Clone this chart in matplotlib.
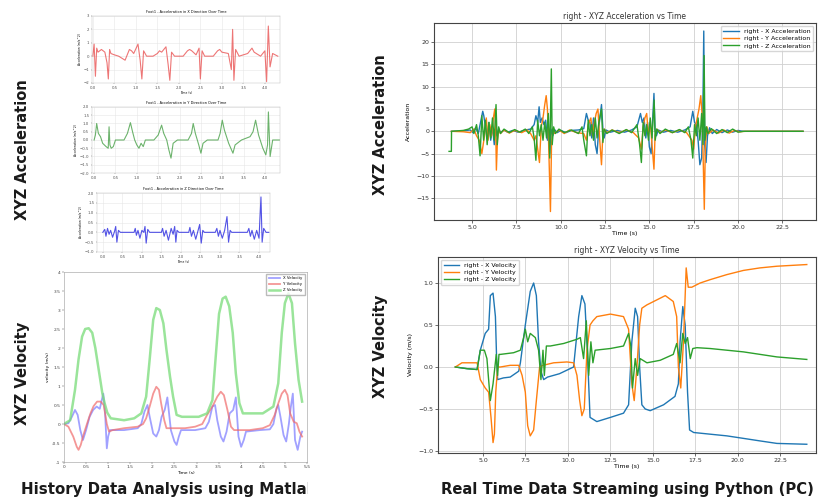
import matplotlib
matplotlib.use("Agg")
import matplotlib.pyplot as plt
from matplotlib.patches import Rectangle

# ---- left: history data (Matlab) ----
hx_t = [0.0, 0.03, 0.06, 0.09, 0.12, 0.2, 0.28, 0.33, 0.36, 0.39, 0.42, 0.5, 0.6, 0.75, 0.8, 0.85, 0.9, 0.95,
        1.05, 1.1, 1.14, 1.18, 1.25, 1.4, 1.5, 1.55, 1.6, 1.7, 1.75, 1.79, 1.83, 1.9, 2.1, 2.2, 2.25, 2.3, 2.4,
        2.47, 2.5, 2.54, 2.6, 2.8, 2.9, 2.95, 3.0, 3.15, 3.22, 3.25, 3.28, 3.32, 3.4, 3.6, 3.65, 3.7, 3.75, 3.9,
        4.0, 4.04, 4.08, 4.12, 4.18, 4.3]
hx_a = [0, 0.9, -1.5, 0.6, 0.3, 0.5, 0.3, -0.5, -1.7, 0.5, 0.2, 0.1, 0.0, -0.3, 0.1, 0.5, 0.4, 0.2,
        0.9, -0.3, -1.7, 0.4, 0.0, 0.0, 0.2, 0.4, 0.3, 0.7, -0.6, -1.8, 0.3, 0.0, 0.0, 0.4, 0.5, 0.4, 0.1,
        0.6, -1.7, 0.4, 0.0, 0.0, 0.4, 0.5, 0.3, 0.2, -1.0, 2.0, -1.8, 0.5, 0.0, 0.2, 0.4, 0.6, 0.3, 0.0,
        0.4, -1.9, 2.25, -0.8, 0.2, 0.0]

hy_t = [0.0, 0.03, 0.06, 0.1, 0.15, 0.2, 0.28, 0.33, 0.35, 0.37, 0.4, 0.45, 0.5, 0.7, 0.78, 0.85, 0.9, 0.95,
        1.0, 1.05, 1.1, 1.15, 1.2, 1.4, 1.5, 1.58, 1.63, 1.7, 1.75, 1.8, 1.85, 1.95, 2.2, 2.28, 2.32, 2.37,
        2.45, 2.5, 2.55, 2.65, 2.9, 2.95, 3.0, 3.05, 3.15, 3.25, 3.3, 3.45, 3.65, 3.72, 3.78, 3.85, 3.95,
        4.02, 4.06, 4.08, 4.12, 4.18, 4.35]
hy_a = [0, 0.3, 1.0, 0.4, 0.2, -0.2, -0.4, -0.5, 0.8, -0.3, -0.5, -0.4, 0.0, 0.0, 0.4, 1.05, 0.5, 0.0,
        -0.3, -0.5, -0.2, -0.4, 0.0, 0.0, 0.3, 0.9, 0.4, 0.0, -0.6, -1.1, -0.2, 0.0, 0.0, 0.4, 1.0, 0.4,
        -0.3, -0.8, -0.2, 0.0, 0.0, 0.4, 1.2, 0.6, -0.2, -0.8, -0.3, 0.0, 0.2, 0.5, 1.2, 0.3, -0.5,
        -0.9, -0.3, 1.7, -1.0, 0.0, 0.0]

hz_t = [0.0, 0.05, 0.08, 0.12, 0.16, 0.2, 0.25, 0.3, 0.33, 0.36, 0.4, 0.45, 0.8, 0.83, 0.86, 0.9, 0.95,
        1.0, 1.05, 1.08, 1.11, 1.15, 1.2, 1.5, 1.53, 1.57, 1.62, 1.68, 1.75, 1.8, 1.84, 1.87, 1.9, 1.95,
        2.2, 2.23, 2.27, 2.32, 2.38, 2.44, 2.48, 2.52, 2.56, 2.6, 2.88, 2.92, 2.96, 3.0, 3.06, 3.12, 3.18,
        3.22, 3.26, 3.3, 3.7, 3.74, 3.78, 3.82, 3.88, 3.94, 4.0, 4.05, 4.08, 4.12, 4.18, 4.25]
hz_a = [0, 0.15, -0.2, 0.2, -0.1, 0.1, -0.25, 0.05, 0.3, -0.5, 0.1, 0.0, 0.0, 0.2, -0.15, 0.1, -0.3,
        0.1, 0.0, 0.3, -0.55, 0.15, 0.0, 0.0, 0.2, -0.2, 0.1, -0.4, 0.2, -0.1, 0.3, -0.5, 0.1, 0.0,
        0.0, 0.25, -0.2, 0.1, -0.35, 0.1, 0.4, -0.55, 0.1, 0.0, 0.0, 0.2, -0.2, 0.1, -0.3, 0.1, 0.8,
        -0.5, 0.1, 0.0, 0.0, 0.2, -0.2, 0.1, -0.35, 0.1, -0.3, 1.8, -0.5, 0.2, 0.0, 0.0]

hv_t_z = [0.0, 0.14, 0.25, 0.33, 0.41, 0.48, 0.56, 0.64, 0.71, 0.79, 0.87, 0.92, 0.98, 1.06, 1.36, 1.59, 1.75,
          1.86, 1.94, 2.02, 2.09, 2.17, 2.25, 2.32, 2.4, 2.47, 2.55, 2.67, 3.05, 3.24, 3.36, 3.43, 3.51, 3.59,
          3.66, 3.74, 3.82, 3.89, 3.97, 4.05, 4.5, 4.74, 4.85, 4.93, 5.0, 5.08, 5.16, 5.23, 5.31, 5.39]
hv_z = [0.0, 0.1, 0.9, 1.7, 2.3, 2.5, 2.52, 2.4, 2.0, 1.4, 0.8, 0.55, 0.3, 0.15, 0.1, 0.15, 0.28,
        0.72, 1.7, 2.74, 3.05, 3.0, 2.65, 1.95, 1.25, 0.72, 0.24, 0.19, 0.19, 0.28, 0.63, 1.7, 2.9, 3.3,
        3.35, 3.1, 2.4, 1.33, 0.55, 0.28, 0.28, 0.46, 1.07, 2.4, 3.18, 3.44, 3.18, 2.12, 1.16, 0.59]

hv_t_y = [0.0, 0.1, 0.21, 0.29, 0.33, 0.38, 0.44, 0.52, 0.6, 0.67, 0.75, 0.83, 0.9, 0.97, 1.02, 1.1, 1.36,
          1.67, 1.79, 1.86, 1.94, 2.02, 2.09, 2.15, 2.2, 2.27, 2.32, 2.51, 2.74, 2.97, 3.13, 3.24, 3.36, 3.47,
          3.55, 3.62, 3.7, 3.78, 3.85, 4.2, 4.5, 4.66, 4.77, 4.85, 4.93, 5.0, 5.06, 5.12, 5.2, 5.27, 5.33, 5.39]
hv_y = [0.0, -0.07, -0.33, -0.6, -0.68, -0.55, -0.29, 0.0, 0.28, 0.47, 0.59, 0.59, 0.5, 0.0, -0.2, -0.16, -0.11,
        -0.07, 0.0, 0.15, 0.46, 0.8, 0.98, 0.9, 0.54, 0.1, -0.11, -0.11, -0.11, -0.07, 0.0, 0.24, 0.46, 0.72,
        0.85, 0.76, 0.37, -0.07, -0.16, -0.16, -0.11, -0.03, 0.24, 0.54, 0.8, 0.9, 0.76, 0.28, 0.06, 0.02, -0.2, -0.33]

hv_t_x = [0.0, 0.1, 0.18, 0.25, 0.31, 0.37, 0.43, 0.5, 0.58, 0.66, 0.74, 0.81, 0.89, 0.93, 0.97, 1.0, 1.04,
          1.36, 1.67, 1.75, 1.82, 1.89, 1.94, 2.02, 2.09, 2.15, 2.21, 2.28, 2.34, 2.42, 2.5, 2.55, 2.6, 2.65,
          2.97, 3.2, 3.28, 3.36, 3.42, 3.47, 3.55, 3.61, 3.68, 3.75, 3.83, 3.89, 3.95, 4.01, 4.07, 4.12,
          4.43, 4.66, 4.74, 4.81, 4.85, 4.9, 4.97, 5.03, 5.09, 5.13, 5.18, 5.23, 5.29, 5.35, 5.39]
hv_x = [0.0, 0.02, 0.19, 0.37, 0.24, -0.16, -0.42, -0.16, 0.19, 0.37, 0.46, 0.4, 0.8, 0.3, -0.64, -0.33, -0.16,
        -0.16, -0.11, 0.0, 0.32, 0.5, 0.19, -0.25, -0.33, -0.16, 0.19, 0.37, 0.7, -0.16, -0.46, -0.55, -0.33, -0.16,
        -0.16, -0.11, 0.06, 0.46, 0.5, 0.1, -0.33, -0.46, -0.2, 0.28, 0.37, 0.7, -0.33, -0.6, -0.42, -0.2,
        -0.16, -0.14, 0.0, 0.41, 0.5, 0.19, -0.29, -0.46, 0.0, 0.41, 0.8, -0.42, -0.68, -0.33, -0.2]

# ---- right: real time streaming (Python) ----
ax_t = [3.83, 4.5, 4.9, 5.05, 5.2, 5.35, 5.5, 5.6, 5.66, 5.75, 5.85, 5.95, 6.05, 6.15, 6.25, 6.33, 6.4, 6.5, 6.6,
        6.8, 7.0, 7.3, 7.6, 8.0, 8.3, 8.5, 8.6, 8.7, 8.78, 8.85, 8.95, 9.05, 9.15, 9.25, 9.3, 9.38, 9.45, 9.55,
        9.65, 9.8, 10.0, 10.3, 10.6, 11.0, 11.3, 11.45, 11.55, 11.65, 11.75, 11.85, 11.95, 12.05, 12.15, 12.3,
        12.38, 12.45, 12.55, 12.8, 13.2, 13.6, 14.0, 14.3, 14.5, 14.6, 14.7, 14.8, 14.9, 15.0, 15.1, 15.18,
        15.26, 15.32, 15.4, 15.5, 15.8, 16.2, 16.6, 17.0, 17.3, 17.45, 17.55, 17.65, 17.75, 17.85, 17.95,
        18.02, 18.07, 18.12, 18.2, 18.28, 18.4, 18.55, 18.8, 19.1, 19.4, 19.7, 20.0, 20.3, 23.67]
ax_a = [0, 0.1, 0.3, -0.3, 0.8, -0.5, 2.5, 4.5, 3.5, 1.0, -1.5, 2.0, -2.0, 1.0, -3.0, 0.5, -1.0, 0.5, -0.3,
        0.3, -0.2, 0.2, -0.2, 0.3, 0.5, 1.5, 3.5, 2.0, 5.5, 2.0, 3.0, 1.5, 2.5, -2.0, 1.0, -5.0, 0.5, -1.0,
        0.4, -0.3, 0.2, -0.3, 0.2, 0.3, 0.6, 4.0, 2.5, 2.0, -1.5, 3.0, -3.0, -5.0, 1.0, 6.0,
        0.5, -1.5, 0.3, -0.2, 0.2, -0.2, 0.3, 1.0, 4.0, 2.0, 3.0, -1.5, 2.0, -3.5, -5.0, 2.0,
        8.5, 0.5, -1.0, 0.3, -0.2, 0.2, -0.2, 0.3, 1.0, 4.5, 2.0, 1.5, -2.0, -7.5, -6.0,
        5.0, 22.5, -3.0, -7.0, -1.0, 0.8, -0.5, 0.4, -0.3, 0.3, -0.2, 0.2, 0.0, 0.0]

ay_t = [3.83, 4.5, 4.9, 5.1, 5.25, 5.4, 5.55, 5.7, 5.8, 5.9, 6.0, 6.1, 6.2, 6.28, 6.33, 6.37, 6.43, 6.5, 6.6,
        6.8, 7.1, 7.4, 7.8, 8.1, 8.3, 8.5, 8.6, 8.7, 8.8, 8.9, 9.0, 9.1, 9.18, 9.25, 9.32, 9.42, 9.48, 9.55,
        9.65, 9.9, 10.2, 10.5, 10.9, 11.3, 11.45, 11.55, 11.7, 11.8, 11.9, 12.0, 12.1, 12.2, 12.3, 12.36,
        12.45, 12.6, 12.9, 13.3, 13.7, 14.1, 14.4, 14.55, 14.65, 14.75, 14.85, 14.95, 15.05, 15.15, 15.26,
        15.32, 15.42, 15.6, 15.9, 16.3, 16.7, 17.1, 17.4, 17.5, 17.6, 17.7, 17.8, 17.9, 17.97, 18.03, 18.1,
        18.16, 18.25, 18.35, 18.6, 18.9, 19.2, 19.5, 19.8, 20.1, 20.4, 23.67]
ay_a = [0, -0.1, -0.3, 0.5, -1.0, -2.0, -5.0, -1.0, 3.0, -2.0, 1.5, -1.0, 3.0, 5.0, 1.0, -8.7, -2.0, 0.5, -0.5,
        0.3, -0.4, 0.2, -0.3, 0.3, -0.5, -2.0, -1.0, -4.0, -7.0, 1.0, 3.0, 6.0, 8.0, 5.0, -3.0, -18.0, -3.0, 0.5,
        -0.5, 0.3, -0.5, 0.3, -0.3, -0.5, -2.0, 1.5, 3.0, -1.0, 2.0, 4.0, 5.0, -2.0, -7.5, -2.0,
        0.5, -0.3, 0.3, -0.3, 0.3, -0.3, -1.5, -4.0, 1.0, 3.0, 4.0, -1.0, 2.0, -3.0, -8.5,
        -1.0, 0.5, -0.3, 0.3, -0.3, 0.3, -0.3, -2.0, -4.0, 1.0, 3.0, 5.0, 8.0, 4.0, -5.0, -17.5,
        -3.0, 1.0, -0.5, 0.3, -0.4, 0.3, -0.4, 0.2, -0.1, 0.0, 0.0]

az_t = [3.7, 3.83, 3.84, 4.5, 4.8, 5.0, 5.1, 5.25, 5.35, 5.45, 5.55, 5.65, 5.75, 5.85, 5.95, 6.05, 6.15, 6.25,
        6.35, 6.42, 6.5, 6.6, 6.8, 7.1, 7.4, 7.7, 8.0, 8.2, 8.4, 8.5, 8.6, 8.7, 8.8, 8.9, 9.0, 9.1, 9.2, 9.3,
        9.38, 9.47, 9.52, 9.6, 9.7, 9.9, 10.2, 10.6, 11.0, 11.2, 11.3, 11.45, 11.55, 11.65, 11.75, 11.85,
        11.95, 12.05, 12.15, 12.3, 12.38, 12.45, 12.6, 12.9, 13.3, 13.7, 14.0, 14.3, 14.45, 14.55, 14.65,
        14.75, 14.85, 14.95, 15.05, 15.15, 15.27, 15.33, 15.42, 15.6, 15.9, 16.3, 16.7, 17.0, 17.2, 17.35,
        17.45, 17.55, 17.65, 17.75, 17.85, 17.95, 18.03, 18.09, 18.14, 18.22, 18.3, 18.5, 18.8, 19.1, 19.4,
        19.7, 20.0, 20.3, 23.67]
az_a = [-4.5, -4.5, 0, 0.2, 0.5, 1.0, -0.5, 1.5, -1.0, -5.5, 3.5, -2.0, 2.5, -3.0, 2.0, -1.5, 3.0, -2.0,
        6.0, -3.0, 1.0, -0.5, 0.5, -0.3, 0.4, -0.2, 0.5, -0.5, 1.0, -1.5, -6.5, 2.5, -1.0, 1.5, -2.0, 2.0, -1.5, 4.0,
        -6.0, 14.0, -3.0, 1.0, -0.5, 0.5, -0.3, 0.3, -0.5, 1.0, -2.0, -5.5, 2.5, -1.0, 1.5, -2.0,
        3.0, -1.5, 2.0, 5.0, -2.5, 0.5, -0.5, 0.3, -0.5, 0.4, -0.3, 1.5, -3.0, -7.0, 2.0,
        -1.0, 1.5, -2.0, 3.0, -1.5, 7.0, -2.0, 0.5, -0.5, 0.5, -0.3, 0.4, -0.3, 1.0, -2.0,
        -6.0, 1.5, -1.0, 3.0, -2.0, 4.0, -3.0, 17.0, -2.0, 1.0, -0.5, 0.6, -0.5, 0.4, -0.3,
        0.5, -0.2, 0.0, 0.0]

vx_t = [3.37, 4.06, 4.65, 4.84, 5.13, 5.33, 5.43, 5.59, 5.73, 5.8, 5.86, 6.2, 6.6, 7.1, 7.2, 7.49, 7.78, 7.98,
        8.14, 8.27, 8.41, 8.57, 8.8, 9.5, 10.33, 10.43, 10.63, 10.82, 11.0, 11.14, 11.3, 11.7, 12.5, 13.27,
        13.57, 13.76, 13.96, 14.1, 14.22, 14.35, 14.55, 14.84, 15.63, 16.3, 16.5, 16.6, 16.76, 16.9, 17.04,
        17.16, 17.4, 18.37, 19.35, 20.33, 21.3, 22.3, 24.06]
vx_v = [0.0, -0.02, -0.03, 0.2, 0.4, 0.45, 0.85, 0.88, 0.6, 0.1, -0.15, -0.13, -0.12, -0.05, 0.05, 0.5, 0.9, 1.0,
        0.85, 0.3, -0.05, -0.15, -0.12, -0.08, 0.0, 0.2, 0.6, 0.85, 0.75, 0.2, -0.6, -0.65, -0.6, -0.55,
        -0.45, 0.3, 0.7, 0.6, 0.0, -0.45, -0.5, -0.52, -0.45, -0.35, -0.2, 0.3, 0.72, 0.5, -0.3,
        -0.75, -0.78, -0.8, -0.82, -0.85, -0.88, -0.91, -0.92]

vy_t = [3.37, 3.76, 4.65, 4.84, 5.13, 5.33, 5.47, 5.59, 5.67, 5.75, 5.86, 6.02, 6.6, 7.1, 7.3, 7.49, 7.63, 7.78,
        7.98, 8.14, 8.33, 8.53, 9.16, 9.94, 10.33, 10.53, 10.69, 10.82, 10.96, 11.12, 11.3, 11.47, 11.7, 12.5,
        13.27, 13.57, 13.76, 13.9, 14.06, 14.22, 14.35, 14.65, 15.24, 15.73, 16.2, 16.4, 16.5, 16.64, 16.8,
        16.96, 17.08, 17.29, 17.78, 18.37, 19.35, 20.33, 21.3, 22.3, 24.06]
vy_v = [0.0, 0.05, 0.05, -0.15, -0.25, -0.3, -0.6, -0.9, -0.8, -0.3, 0.0, 0.0, 0.02, 0.02, -0.1, -0.3, -0.7, -0.82,
        -0.75, -0.4, 0.0, 0.02, 0.05, 0.06, 0.05, -0.1, -0.4, -0.58, -0.5, 0.2, 0.5, 0.55, 0.6, 0.63,
        0.6, 0.45, -0.2, -0.4, 0.0, 0.5, 0.7, 0.74, 0.8, 0.85, 0.78, 0.6, 0.0, -0.25, 0.3,
        1.18, 0.95, 0.95, 1.0, 1.04, 1.1, 1.15, 1.18, 1.2, 1.22]

vz_t = [3.37, 4.06, 4.65, 4.84, 5.08, 5.23, 5.43, 5.59, 5.78, 5.86, 5.94, 6.02, 6.8, 7.2, 7.39, 7.49, 7.63, 7.78,
        8.08, 8.27, 8.41, 8.53, 8.61, 8.73, 8.96, 9.75, 10.53, 10.73, 10.92, 11.08, 11.22, 11.35, 11.47, 11.6,
        12.5, 13.27, 13.57, 13.7, 13.8, 13.96, 14.1, 14.25, 14.65, 15.43, 16.2, 16.4, 16.6, 16.76, 16.9,
        17.04, 17.2, 17.35, 17.59, 18.37, 20.33, 22.3, 24.06]
vz_v = [0.0, -0.02, -0.03, 0.2, 0.2, 0.1, -0.4, -0.2, 0.15, -0.1, 0.15, 0.15, 0.17, 0.2, 0.35, 0.45, 0.3, 0.4,
        0.35, 0.2, -0.15, 0.2, -0.1, 0.25, 0.25, 0.28, 0.33, 0.35, 0.1, 0.55, -0.1, 0.3, 0.05, 0.2,
        0.22, 0.25, 0.4, 0.25, -0.25, 0.1, -0.1, 0.1, 0.05, 0.08, 0.15, 0.28, 0.05, 0.4, 0.28,
        0.35, 0.1, 0.22, 0.23, 0.22, 0.18, 0.12, 0.09]

fig = plt.figure(figsize=(8.19, 4.99), dpi=100)
fig.patch.set_facecolor("white")

tiny = 2.8
small = 4.5


def style_left(ax):
    ax.grid(True, color="#e6e6e6", linewidth=0.4)
    ax.tick_params(labelsize=tiny, length=1, width=0.3, pad=1, colors="#555555")
    for s in ax.spines.values():
        s.set_linewidth(0.3)
        s.set_color("#bbbbbb")


# Foot1 acceleration subplots
ax1 = fig.add_axes([0.1123, 0.8337, 0.2295, 0.1343])
ax1.plot(hx_t, hx_a, color="#e84848", lw=0.8, alpha=0.75)
ax1.set_xlim(-0.02, 4.35)
ax1.set_ylim(-2, 3)
ax1.set_title("Foot1 - Acceleration in X Direction Over Time", fontsize=2.5, pad=2)
ax1.set_ylabel("Acceleration (m/s^2)", fontsize=2.2, labelpad=1)
ax1.set_xlabel("Time (s)", fontsize=2.2, labelpad=1)
style_left(ax1)

ax2 = fig.add_axes([0.1123, 0.6533, 0.2295, 0.1323])
ax2.plot(hy_t, hy_a, color="#3c9a3c", lw=0.8, alpha=0.75)
ax2.set_xlim(-0.05, 4.35)
ax2.set_ylim(-2, 2)
ax2.set_title("Foot1 - Acceleration in Y Direction Over Time", fontsize=2.5, pad=2)
ax2.set_ylabel("Acceleration (m/s^2)", fontsize=2.2, labelpad=1)
style_left(ax2)

ax3 = fig.add_axes([0.1184, 0.495, 0.2112, 0.1182])
ax3.plot(hz_t, hz_a, color="#2828e0", lw=0.8, alpha=0.8)
ax3.set_xlim(-0.15, 4.28)
ax3.set_ylim(-1, 2)
ax3.set_title("Foot1 - Acceleration in Z Direction Over Time", fontsize=2.5, pad=2)
ax3.set_ylabel("Acceleration (m/s^2)", fontsize=2.2, labelpad=1)
ax3.set_xlabel("Time (s)", fontsize=2.2, labelpad=1)
style_left(ax3)

# Matlab velocity
ax4 = fig.add_axes([0.0781, 0.0741, 0.2967, 0.3808])
ax4.plot(hv_t_x, hv_x, color="#7a7aff", lw=1.3, alpha=0.7, label="X Velocity")
ax4.plot(hv_t_y, hv_y, color="#f06a6a", lw=1.3, alpha=0.7, label="Y Velocity")
ax4.plot(hv_t_z, hv_z, color="#78dc78", lw=1.8, alpha=0.75, label="Z Velocity")
ax4.set_xlim(0, 5.5)
ax4.set_ylim(-1, 4)
ax4.set_xticks([0, 0.5, 1, 1.5, 2, 2.5, 3, 3.5, 4, 4.5, 5, 5.5])
ax4.set_xticklabels(["0", "0.5", "1", "1.5", "2", "2.5", "3", "3.5", "4", "4.5", "5", "5.5"])
ax4.set_yticks([-1, -0.5, 0, 0.5, 1, 1.5, 2, 2.5, 3, 3.5, 4])
ax4.set_yticklabels(["-1", "-0.5", "0", "0.5", "1", "1.5", "2", "2.5", "3", "3.5", "4"])
ax4.set_xlabel("Time (s)", fontsize=3.2, labelpad=1)
ax4.set_ylabel("velocity (m/s)", fontsize=3.2, labelpad=1)
ax4.tick_params(labelsize=3.2, length=1.5, width=0.3, pad=1, colors="#444444")
for s in ax4.spines.values():
    s.set_linewidth(0.4)
    s.set_color("#999999")
ax4.legend(loc="upper right", fontsize=2.8, frameon=True, fancybox=False,
           edgecolor="#aaaaaa", handlelength=3, borderpad=0.6)


def style_right(ax):
    ax.grid(True, color="#d0d0d0", linewidth=0.6)
    ax.tick_params(labelsize=small, length=2, width=0.5, pad=1.5, colors="#333333")
    for s in ax.spines.values():
        s.set_linewidth(0.8)
        s.set_color("#444444")


# Python acceleration
ax5 = fig.add_axes([0.5299, 0.5591, 0.4664, 0.3948])
ax5.plot(ax_t, ax_a, color="#1f77b4", lw=1.0, label="right - X Acceleration")
ax5.plot(ay_t, ay_a, color="#ff7f0e", lw=1.0, label="right - Y Acceleration")
ax5.plot(az_t, az_a, color="#2ca02c", lw=1.0, label="right - Z Acceleration")
ax5.set_xlim(2.85, 24.4)
ax5.set_ylim(-19.9, 24.3)
ax5.set_xticks([5, 7.5, 10, 12.5, 15, 17.5, 20, 22.5])
ax5.set_yticks([-15, -10, -5, 0, 5, 10, 15, 20])
ax5.set_title("right - XYZ Acceleration vs Time", fontsize=5.5, pad=3, color="#333333")
ax5.set_xlabel("Time (s)", fontsize=small, labelpad=1)
ax5.set_ylabel("Acceleration", fontsize=small, labelpad=4)
style_right(ax5)
ax5.legend(loc="upper right", fontsize=small, handlelength=2.5, borderpad=0.4, labelspacing=0.3)

# Python velocity
ax6 = fig.add_axes([0.5348, 0.0922, 0.4615, 0.3928])
ax6.plot(vx_t, vx_v, color="#1f77b4", lw=1.0, label="right - X Velocity")
ax6.plot(vy_t, vy_v, color="#ff7f0e", lw=1.0, label="right - Y Velocity")
ax6.plot(vz_t, vz_v, color="#2ca02c", lw=1.0, label="right - Z Velocity")
ax6.set_xlim(2.35, 24.6)
ax6.set_ylim(-1.024, 1.31)
ax6.set_xticks([5, 7.5, 10, 12.5, 15, 17.5, 20, 22.5])
ax6.set_yticks([-1.0, -0.5, 0.0, 0.5, 1.0])
ax6.set_title("right - XYZ Velocity vs Time", fontsize=5.5, pad=3, color="#333333")
ax6.set_xlabel("Time (s)", fontsize=small, labelpad=1)
ax6.set_ylabel("Velocity (m/s)", fontsize=small, labelpad=4)
style_right(ax6)
ax6.legend(loc="upper left", fontsize=small, handlelength=2.5, borderpad=0.4, labelspacing=0.3)

# big section labels
big = dict(fontsize=10.5, fontweight="bold", color="#1a1a1a", ha="center", va="center")
fig.text(0.027, 0.70, "XYZ Acceleration", rotation=90, **big)
fig.text(0.027, 0.2525, "XYZ Velocity", rotation=90, **big)
fig.text(0.464, 0.75, "XYZ Acceleration", rotation=90, **big)
fig.text(0.464, 0.305, "XYZ Velocity", rotation=90, **big)

t1 = fig.text(0.0256, 0.02, "History Data Analysis using Matlab", fontsize=10.8, fontweight="bold",
              color="#1a1a1a", ha="left", va="center")
clip = Rectangle((0, 0), 0.376, 0.1, transform=fig.transFigure, visible=False)
fig.add_artist(clip)
t1.set_clip_path(clip)
fig.text(0.539, 0.02, "Real Time Data Streaming using Python (PC)", fontsize=10.6, fontweight="bold",
         color="#1a1a1a", ha="left", va="center")

fig.savefig("out.png", dpi=100)
